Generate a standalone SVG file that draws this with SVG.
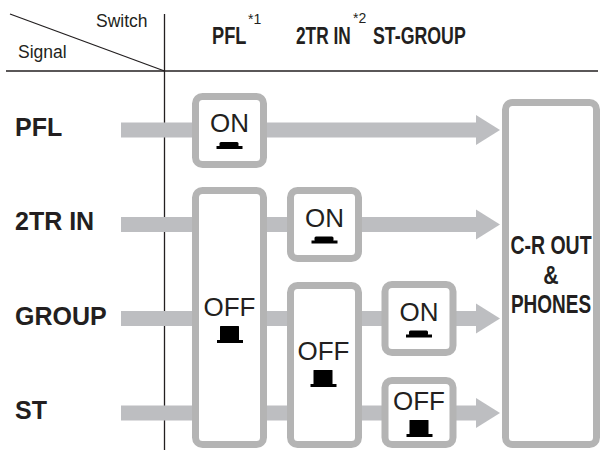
<svg xmlns="http://www.w3.org/2000/svg" xmlns:xlink="http://www.w3.org/1999/xlink" width="602" height="450" viewBox="0 0 602 450">
<style>
.rule{stroke:#231f20;stroke-width:1.3;fill:none}
.bar{fill:#bdbec1}
.box{fill:#ffffff;stroke:#b4b4b4;stroke-width:7}
.sw{font-family:"Liberation Sans",Arial,sans-serif;font-size:26px;fill:#231f20;text-anchor:middle}
.hdr{font-family:"Liberation Sans",Arial,sans-serif;font-weight:bold;font-size:24px;fill:#231f20}
.sup{font-family:"Liberation Sans",Arial,sans-serif;font-size:14px;fill:#231f20}
.sig{font-family:"Liberation Sans",Arial,sans-serif;font-weight:bold;font-size:25px;fill:#231f20}
.cap{font-family:"Liberation Sans",Arial,sans-serif;font-size:17.5px;fill:#231f20}
.out{font-family:"Liberation Sans",Arial,sans-serif;font-weight:bold;font-size:25px;fill:#231f20;text-anchor:middle}
.btn{fill:#000000}
</style>
<defs>
<g id="btnOn"><rect class="btn" x="-10" y="0" width="19" height="5" rx="1.5"/><rect class="btn" x="-13" y="4" width="26" height="3"/></g>
<g id="btnOff"><rect class="btn" x="-10" y="0" width="19" height="15" rx="0.5"/><rect class="btn" x="-13" y="14" width="26" height="3"/></g>
<g id="arrow"><rect x="121" y="-7.5" width="356" height="15"/><polygon points="476,-15 500,0 476,15"/></g>
</defs>
<g id="header">
<line class="rule" x1="10" y1="14" x2="164.5" y2="71"/>
<line class="rule" x1="6" y1="71" x2="598" y2="71"/>
<line class="rule" x1="164.5" y1="14" x2="164.5" y2="450"/>
<text class="cap" x="96" y="27">Switch</text>
<text class="cap" x="18" y="58">Signal</text>
<text class="hdr" transform="translate(212,44) scale(0.76,1)">PFL</text>
<text class="sup" x="248" y="24">*1</text>
<text class="hdr" transform="translate(296,44) scale(0.72,1)">2TR IN</text>
<text class="sup" x="353" y="23">*2</text>
<text class="hdr" transform="translate(373,44) scale(0.74,1)">ST-GROUP</text>
</g>
<g id="signals">
<text class="sig" x="15" y="136">PFL</text>
<text class="sig" x="15" y="230">2TR IN</text>
<text class="sig" x="15" y="325">GROUP</text>
<text class="sig" x="15" y="419">ST</text>
</g>
<g id="connectors" class="bar">
<use xlink:href="#arrow" href="#arrow" transform="translate(0,130)"/>
<use xlink:href="#arrow" href="#arrow" transform="translate(0,224.5)"/>
<use xlink:href="#arrow" href="#arrow" transform="translate(0,318.5)"/>
<use xlink:href="#arrow" href="#arrow" transform="translate(0,413)"/>
</g>
<g id="pfl-on">
<rect class="box" x="195.5" y="96.5" width="68" height="68" rx="7"/>
<text class="sw" x="229.5" y="132">ON</text>
<use xlink:href="#btnOn" href="#btnOn" transform="translate(229.5,142)"/>
</g>
<g id="pfl-off">
<rect class="box" x="195.5" y="190.5" width="68" height="254" rx="7"/>
<text class="sw" x="229.5" y="316">OFF</text>
<use xlink:href="#btnOff" href="#btnOff" transform="translate(230,326)"/>
</g>
<g id="tr-on">
<rect class="box" x="290.5" y="190.5" width="68" height="68" rx="7"/>
<text class="sw" x="324.5" y="226.5">ON</text>
<use xlink:href="#btnOn" href="#btnOn" transform="translate(324.5,236.5)"/>
</g>
<g id="tr-off">
<rect class="box" x="290.5" y="285.5" width="68" height="159" rx="7"/>
<text class="sw" x="323.5" y="360">OFF</text>
<use xlink:href="#btnOff" href="#btnOff" transform="translate(323.5,370)"/>
</g>
<g id="st-on">
<rect class="box" x="385" y="284.5" width="68" height="68" rx="7"/>
<text class="sw" x="419" y="320.5">ON</text>
<use xlink:href="#btnOn" href="#btnOn" transform="translate(419,330.5)"/>
</g>
<g id="st-off">
<rect class="box" x="385" y="380.5" width="68" height="64" rx="7"/>
<text class="sw" x="419" y="410">OFF</text>
<use xlink:href="#btnOff" href="#btnOff" transform="translate(419.5,420)"/>
</g>
<g id="cr-out">
<rect class="box" x="505.5" y="102.5" width="91" height="342" rx="7"/>
<text class="out" transform="translate(551,254) scale(0.78,1)">C-R OUT</text>
<text class="out" transform="translate(551,284) scale(0.85,1)">&amp;</text>
<text class="out" transform="translate(551,313) scale(0.76,1)">PHONES</text>
</g>
</svg>
